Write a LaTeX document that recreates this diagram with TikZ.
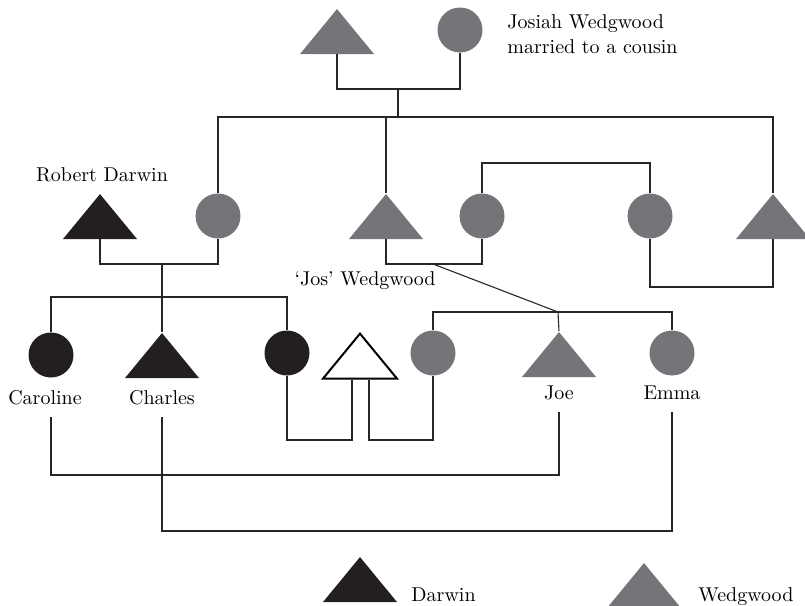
\documentclass[tikz,border=0pt]{standalone}
\usetikzlibrary{shapes.geometric}

\definecolor{darwin}{RGB}{35,31,32}
\definecolor{wedg}{RGB}{116,117,121}

\tikzstyle{dcirc}=[circle,fill=darwin,minimum size=22.5pt,inner sep=0pt]
\tikzstyle{wcirc}=[circle,fill=wedg,minimum size=22.5pt,inner sep=0pt]
\tikzstyle{tri}=[isosceles triangle,isosceles triangle stretches,shape border rotate=90,minimum width=37pt,minimum height=22.5pt,inner sep=0pt,anchor=apex]
\tikzstyle{dtri}=[tri,fill=darwin]
\tikzstyle{wtri}=[tri,fill=wedg]
\tikzstyle{otri}=[tri,draw=black,fill=white,line width=1pt]
\tikzstyle{kin}=[draw=black!85,line width=0.55pt]
\tikzstyle{lbl}=[inner sep=0pt,outer ysep=6.5pt,text depth=0pt,anchor=base]

\begin{document}
\begin{tikzpicture}[x=0.5pt,y=-0.5pt,font=\fontsize{10}{12.5}\selectfont]
	\useasboundingbox (0,0) rectangle (805,606);
	%Josiah and his wife
	\node[wtri] (josiah) at (337,8) {};
	\node[wcirc] (sarah) at (460,30) {};
	\node[anchor=base west,align=left,inner sep=0pt] (note) at (507,53) {Josiah Wedgwood\\married to a cousin};
	%Second generation
	\foreach \pos/\name in 	{{(100,193)/robert}}
		\node[dtri] (\name) at \pos {};
	\foreach \pos/\name in 	{{(386,193)/jos},	{(773,193)/john}}
		\node[wtri] (\name) at \pos {};
	\foreach \pos/\name in 	{{(218,216)/susannah},	{(482,216)/bessy},	{(650,216)/sister}}
		\node[wcirc] (\name) at \pos {};
	\node[lbl] (roblab) at (102,181) {Robert Darwin};
	\node[lbl] (joslab) at (365,285) {`Jos' Wedgwood};
	%Third generation
	\foreach \pos/\name in 	{{(51,355)/caroline},	{(287,353)/marianne}}
		\node[dcirc] (\name) at \pos {};
	\node[dtri] (charles) at (162,332) {};
	\node[otri] (spouse) at (360,331) {};
	\foreach \pos/\name in 	{{(433,353)/charlotte},	{(672,353)/emma}}
		\node[wcirc] (\name) at \pos {};
	\node[wtri] (joe) at (559,331) {};
	\foreach \pos/\name/\txt in 	{{(45,404)/carolab/Caroline},	{(162,404)/chalab/Charles},
						{(559,399)/joelab/Joe},	{(672,399)/emmalab/Emma}}
		\node[lbl] (\name) at \pos {\txt};
	%Legend
	\node[dtri] (keyd) at (360,556) {};
	\node[wtri] (keyw) at (644,562) {};
	\node[lbl,anchor=base west] (keydlab) at (411,601) {Darwin};
	\node[lbl,anchor=base west] (keywlab) at (698,601) {Wedgwood};
	%Lines
	\coordinate (m0) at (398,89);
	\coordinate (b0) at (398,117);
	\coordinate (m1) at (162,264);
	\coordinate (b1) at (162,297);
	\coordinate (m2) at (433,264);
	\coordinate (b2) at (558,312);
	\coordinate (m3) at (566,163);
	\coordinate (m4) at (711,287);
	\coordinate (m5) at (320,440);
	\coordinate (m6) at (400,440);
	\coordinate (m7) at (300,475);
	\coordinate (m8) at (400,531);
	\draw[kin] (josiah.lower side) |- (m0) -| (sarah.south);
	\draw[kin] (m0) -- (b0);
	\draw[kin] (susannah.north) |- (b0) -| (john.apex);
	\draw[kin] (jos.apex) -- (jos.apex |- b0);
	\draw[kin] (robert.lower side) |- (m1) -| (susannah.south);
	\draw[kin] (m1) -- (b1);
	\draw[kin] (caroline.north) |- (b1) -| (marianne.north);
	\draw[kin] (b1) -- (charles.apex);
	\draw[kin] (jos.lower side) |- (m2) -| (bessy.south);
	\draw[kin] (m2) -- (b2);
	\draw[kin] (charlotte.north) |- (b2) -| (emma.north);
	\draw[kin] (b2) -- (joe.apex);
	\draw[kin] (bessy.north) |- (m3) -| (sister.north);
	\draw[kin] (sister.south) |- (m4) -| (john.lower side);
	\draw[kin] (marianne.south) |- (m5) -| ([xshift=-4pt]spouse.lower side);
	\draw[kin] ([xshift=4.5pt]spouse.lower side) |- (m6) -| (charlotte.south);
	\draw[kin] (carolab.south -| caroline.south) |- (m7) -| (joelab.south);
	\draw[kin] (chalab.south) |- (m8) -| (emmalab.south);
\end{tikzpicture}
\end{document}
